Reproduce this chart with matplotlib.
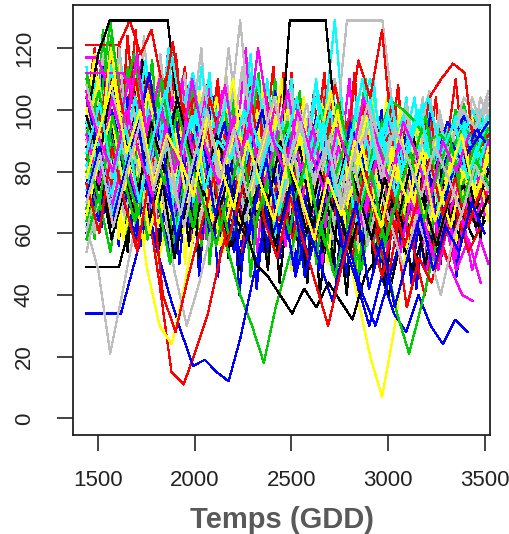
import numpy as np
import matplotlib
matplotlib.use("Agg")
import matplotlib.pyplot as plt

# couleurs de la palette R par defaut
couleurs = ["black", "#FF0000", "#00CD00", "#0000FF", "#00FFFF", "#FF00FF", "#FFFF00", "#BEBEBE"]

# debut / fin de chaque serie (GDD)
fin = [3500, 3400, 3520, 3520, 3520, 3440, 3520, 3520,
       3300, 3450, 3520, 3400, 3520, 3520, 3520, 3400,
       3420, 3520, 3520, 3412, 3520, 3480, 3520, 3450,
       3380, 3440, 3480, 3520, 3520, 3520, 3400, 3520,
       3520, 3480, 3520, 3520, 3500, 3460, 3520, 3400,
       3520, 3480, 3520, 3500, 3480, 3420, 3520, 3520,
       3520, 3500, 3520, 3480, 3520, 3460, 3520, 3520,
       3480, 3520, 3520, 3440, 3520, 3500, 3520, 3520,
       3460, 3520, 3520, 3400, 3520, 3520, 3480, 3520,
       3440, 3520, 3520, 3520, 3520, 3460, 3500, 3520]
debut = [1440] * len(fin)

s00 = [49, 49, 49, 49, 62, 75, 70, 82, 66, 78, 90, 72, 68, 80, 64, 58, 71, 84, 76, 62, 55, 68, 74, 60, 52, 66, 79, 70, 58, 63, 75, 68, 56, 61, 72, 66, 58, 64]
s01 = [121, 121, 121, 121, 129, 118, 126, 108, 115, 98, 104, 88, 95, 80, 92, 76, 85, 70, 82, 95, 78, 88, 72, 84, 96, 80, 70, 86, 92, 76, 82, 68, 74, 88, 78, 70]
s02 = [112, 95, 129, 100, 118, 90, 104, 84, 98, 76, 88, 102, 80, 94, 70, 86, 78, 96, 72, 90, 100, 84, 76, 92, 80, 68, 88, 74, 82, 90, 76, 86, 70, 84, 78]
s03 = [34, 34, 34, 34, 48, 62, 58, 74, 66, 90, 72, 84, 60, 78, 96, 70, 82, 64, 88, 76, 62, 80, 92, 70, 58, 74, 86, 66, 78, 60, 72, 84, 66, 76, 90, 80]
s04 = [98, 110, 88, 104, 92, 116, 84, 100, 78, 94, 106, 82, 90, 74, 98, 86, 70, 92, 80, 96, 84, 72, 90, 78, 104, 82, 96, 76, 86, 70, 84, 92, 78, 88, 94]
s05 = [117, 117, 108, 96, 110, 84, 102, 92, 76, 96, 88, 104, 80, 94, 72, 90, 84, 100, 78, 92, 86, 74, 96, 82, 88, 70, 92, 80, 98, 84, 76, 64, 70, 56, 48, 40, 38]
s06 = [86, 72, 96, 60, 88, 74, 50, 66, 82, 94, 70, 86, 62, 78, 92, 68, 84, 100, 76, 88, 64, 80, 72, 94, 78, 62, 86, 70, 92, 80, 68, 84, 76, 90, 72]
s07 = [62, 48, 21, 40, 60, 78, 92, 70, 96, 84, 108, 76, 94, 129, 88, 104, 80, 98, 72, 90, 84, 110, 86, 76, 100, 82, 94, 74, 88, 106, 80, 92, 70, 86, 78]
s08 = [96, 118, 129, 129, 129, 129, 129, 129, 96, 78, 90, 70, 84, 100, 76, 66, 82, 94, 72, 88, 60, 74, 90, 68, 84, 76, 62, 80, 72, 90, 66, 78]
s09 = [72, 90, 64, 80, 56, 70, 44, 15, 11, 22, 34, 52, 68, 80, 62, 90, 74, 58, 84, 70, 96, 78, 64, 88, 72, 60, 82, 70, 92, 76, 66, 80, 72]
s10 = [80, 66, 92, 74, 58, 84, 70, 52, 76, 62, 88, 68, 54, 40, 30, 18, 36, 50, 64, 78, 60, 46, 62, 80, 66, 52, 70, 84, 72, 58, 76, 88, 92, 86, 94]
s11 = [84, 70, 94, 78, 60, 72, 54, 40, 28, 17, 19, 15, 12, 26, 44, 62, 76, 58, 82, 70, 90, 66, 80, 74, 60, 86, 72, 92, 78, 64, 82, 70, 88]
s12 = [104, 88, 116, 96, 82, 108, 90, 76, 98, 112, 86, 100, 80, 94, 74, 88, 104, 82, 96, 78, 92, 129, 84, 98, 110, 90, 76, 88, 100, 80, 92, 84, 96, 86, 98]
s13 = [112, 112, 112, 112, 104, 94, 110, 86, 100, 78, 92, 70, 88, 96, 74, 84, 66, 90, 78, 62, 86, 72, 94, 80, 68, 84, 76, 60, 82, 70, 90, 78, 66, 74]
s14 = [92, 110, 80, 98, 70, 88, 62, 76, 94, 72, 86, 104, 78, 90, 66, 84, 98, 74, 88, 60, 80, 96, 56, 38, 20, 7, 28, 54, 76, 64, 82, 70, 86, 74, 80]
s15 = [76, 90, 68, 84, 100, 78, 94, 110, 86, 72, 96, 82, 120, 88, 74, 92, 104, 80, 96, 84, 70, 90, 129, 129, 129, 129, 96, 78, 88, 66, 82, 74, 90]
s16 = [70, 84, 62, 78, 92, 68, 82, 58, 74, 90, 66, 80, 96, 72, 88, 64, 76, 129, 129, 129, 129, 88, 70, 82, 60, 76, 90, 68, 80, 72, 64, 70, 66]
s17 = [90, 74, 100, 82, 68, 94, 78, 106, 86, 72, 98, 80, 66, 88, 102, 76, 92, 84, 70, 96, 82, 108, 90, 116, 104, 126, 84, 94, 78, 104, 110, 115, 112, 80, 70]
s18 = [64, 80, 96, 72, 88, 58, 76, 92, 70, 84, 62, 78, 100, 74, 86, 68, 82, 94, 76, 90, 70, 86, 98, 80, 92, 103, 100, 96, 90, 92, 88, 94, 90, 96]
s19 = [78, 64, 86, 70, 58, 80, 66, 52, 72, 88, 60, 76, 54, 68, 82, 58, 70, 46, 62, 50, 38, 56, 44, 30, 46, 34, 28, 40, 30, 24, 32, 28]
s20 = [96, 80, 108, 92, 76, 100, 84, 118, 94, 78, 104, 88, 72, 96, 110, 86, 98, 74, 92, 82, 100, 80, 94, 76, 88, 104, 82, 96, 70, 88, 80, 92, 86, 74]
s21 = [100, 86, 74, 92, 80, 66, 88, 104, 78, 94, 70, 86, 98, 76, 90, 64, 82, 96, 72, 86, 80, 68, 92, 76, 84, 62, 78, 70, 56, 66, 48, 58, 44]
s22 = [70, 96, 82, 58, 74, 48, 30, 24, 42, 64, 80, 56, 72, 90, 68, 84, 60, 78, 94, 70, 86, 62, 80, 98, 74, 88, 66, 82, 60, 76, 90, 70, 84, 64]
s23 = [54, 72, 88, 66, 80, 60, 74, 48, 30, 44, 62, 78, 94, 70, 86, 64, 80, 100, 76, 92, 68, 84, 72, 96, 80, 66, 88, 74, 82, 70, 86, 78]
s24 = [88, 74, 96, 80, 66, 84, 70, 92, 76, 62, 82, 68, 56, 64, 50, 46, 40, 34, 42, 36, 44, 38, 32, 46, 52, 40, 58, 48, 62, 54, 66, 58]
s25 = [108, 92, 118, 100, 86, 110, 94, 80, 102, 88, 74, 96, 84, 70, 90, 78, 64, 86, 72, 58, 80, 66, 52, 74, 60, 46, 68, 56, 40, 62, 50, 70, 64]
s26 = [58, 72, 54, 80, 64, 86, 70, 50, 76, 62, 88, 74, 58, 82, 68, 94, 76, 60, 84, 70, 56, 78, 64, 48, 70, 52, 34, 21, 36, 52, 68, 80, 72, 86]
s27 = [90, 76, 100, 84, 70, 92, 78, 64, 86, 96, 72, 88, 74, 60, 82, 68, 90, 76, 62, 84, 70, 54, 40, 30, 44, 58, 72, 86, 74, 90, 82, 94, 88]
s28 = [82, 96, 72, 88, 104, 80, 94, 70, 86, 100, 76, 92, 84, 68, 90, 78, 96, 72, 88, 106, 82, 94, 76, 90, 70, 84, 98, 78, 92, 66, 80, 94, 84, 90]
s29 = [78, 94, 68, 86, 72, 98, 82, 66, 90, 76, 60, 84, 70, 92, 78, 102, 84, 68, 88, 74, 96, 80, 64, 86, 72, 54, 76, 62, 48, 68, 80, 72, 90]
s30 = [100, 84, 120, 92, 76, 106, 88, 72, 96, 82, 66, 90, 110, 78, 94, 70, 86, 100, 74, 90, 106, 82, 96, 78, 68, 88, 74, 94, 80, 70, 86, 76]
s31 = [90, 76, 108, 84, 96, 70, 88, 104, 80, 94, 66, 84, 98, 76, 90, 72, 86, 102, 80, 92, 74, 88, 96, 78, 84, 70, 92, 80, 88, 100, 94, 104]
s32 = [66, 80, 58, 74, 90, 64, 78, 52, 70, 84, 60, 74, 90, 66, 80, 56, 72, 88, 62, 76, 68, 54, 72, 86, 66, 78, 92, 70, 84, 64, 76, 62, 72]
s33 = [84, 100, 76, 92, 110, 86, 98, 122, 94, 80, 104, 88, 72, 96, 84, 66, 90, 78, 62, 82, 70, 56, 74, 60, 46, 64, 36, 52, 44, 58, 68, 54, 62]
s34 = [92, 106, 84, 98, 76, 90, 110, 82, 96, 72, 88, 100, 78, 92, 68, 84, 96, 74, 90, 80, 102, 86, 70, 92, 80, 66, 84, 98, 72, 88, 76, 90, 82]
s35 = [104, 86, 98, 78, 92, 112, 84, 100, 74, 90, 82, 96, 70, 86, 100, 76, 92, 64, 80, 88, 72, 96, 84, 66, 80, 94, 74, 86, 62, 78, 84, 90, 96]
s36 = [74, 90, 66, 82, 100, 76, 92, 60, 80, 70, 88, 104, 76, 94, 82, 66, 90, 78, 98, 72, 86, 64, 80, 94, 72, 86, 100, 78, 68, 84, 74, 88]
s37 = [92, 76, 104, 88, 118, 84, 100, 80, 96, 70, 88, 108, 82, 96, 74, 90, 106, 80, 94, 70, 88, 76, 62, 84, 72, 90, 66, 80, 58, 74, 86, 70]
s38 = [66, 84, 98, 74, 90, 60, 78, 94, 70, 86, 64, 80, 96, 72, 88, 104, 76, 92, 68, 84, 100, 72, 88, 64, 80, 94, 70, 86, 76, 62, 80, 70, 88]
s39 = [108, 92, 78, 96, 84, 70, 90, 76, 62, 82, 96, 72, 88, 64, 80, 94, 70, 86, 60, 76, 92, 68, 82, 56, 74, 62, 48, 66, 54, 40, 58, 70]
s40 = [98, 84, 110, 90, 74, 96, 80, 104, 86, 72, 92, 78, 64, 84, 70, 90, 76, 60, 80, 68, 86, 72, 58, 78, 64, 82, 70, 56, 72, 86, 68, 80]
s41 = [76, 60, 88, 70, 54, 80, 40, 28, 46, 62, 78, 56, 70, 86, 64, 52, 72, 58, 44, 30, 48, 64, 80, 60, 74, 56, 70, 84, 66, 78, 62, 74]
s42 = [86, 70, 98, 80, 66, 92, 76, 100, 84, 70, 56, 74, 88, 62, 78, 94, 70, 84, 60, 76, 90, 66, 80, 56, 72, 86, 64, 78, 92, 70, 84, 76]
s43 = [72, 88, 64, 80, 96, 70, 86, 58, 76, 92, 66, 82, 50, 68, 84, 60, 76, 46, 62, 80, 54, 70, 42, 58, 36, 52, 66, 48, 62, 54, 70, 60]
s44 = [86, 102, 78, 94, 70, 90, 106, 82, 98, 74, 90, 84, 100, 76, 92, 86, 104, 80, 96, 72, 88, 110, 84, 98, 80, 94, 104, 86, 96, 78, 90]
s45 = [104, 90, 80, 100, 86, 72, 94, 82, 110, 88, 76, 96, 84, 120, 92, 80, 100, 86, 74, 94, 82, 104, 90, 76, 96, 86, 70, 90, 80, 92]
s46 = [78, 94, 110, 86, 100, 76, 92, 84, 72, 98, 82, 68, 90, 76, 64, 84, 72, 58, 78, 66, 90, 74, 62, 82, 70, 86, 64, 78, 92, 72, 84]
s47 = [70, 86, 62, 80, 96, 74, 90, 66, 84, 100, 78, 94, 72, 88, 104, 82, 96, 76, 90, 68, 86, 102, 78, 94, 84, 72, 88, 78, 66, 82, 74]

# series journalieres plus denses
t00 = [88, 62, 104, 70, 96, 54, 82, 110, 66, 90, 58, 78, 100, 64, 86, 52, 74, 98, 60, 84, 112, 70, 92, 56, 80, 104, 62, 88, 50, 76, 96, 58, 84, 66, 92, 48, 72, 100, 60, 82, 54, 78, 94, 62, 86, 50, 70, 90, 58, 76]
t01 = [70, 96, 116, 84, 122, 92, 74, 108, 86, 64, 98, 118, 80, 104, 72, 94, 60, 86, 110, 78, 100, 68, 90, 114, 76, 96, 58, 84, 106, 70, 92, 64, 88, 112, 74, 98, 56, 80, 102, 66, 90, 60, 84, 104, 72, 94, 62, 82, 100, 70]
t02 = [104, 80, 126, 92, 70, 114, 86, 100, 64, 90, 118, 76, 96, 58, 84, 108, 72, 94, 54, 82, 102, 66, 88, 110, 70, 92, 50, 78, 98, 62, 86, 104, 68, 90, 56, 80, 100, 64, 86, 74, 96, 58, 82, 92, 68, 88, 76, 98, 84, 92]
t03 = [60, 84, 72, 98, 56, 90, 110, 68, 94, 52, 80, 104, 62, 88, 46, 76, 100, 58, 84, 40, 70, 96, 54, 82, 64, 92, 48, 74, 98, 56, 86, 44, 72, 94, 60, 80, 50, 76, 90, 58, 84, 42, 66, 88, 54, 78, 46, 70, 86, 92]
t04 = [114, 90, 104, 78, 120, 96, 82, 110, 72, 98, 116, 84, 102, 68, 94, 112, 80, 100, 74, 96, 118, 86, 104, 70, 92, 108, 78, 98, 64, 88, 106, 76, 96, 70, 90, 110, 80, 100, 66, 92, 104, 78, 96, 72, 88, 100, 84, 94, 80, 90]
t05 = [96, 74, 112, 84, 100, 66, 92, 118, 78, 104, 62, 88, 110, 72, 96, 58, 84, 106, 70, 94, 120, 76, 98, 64, 86, 108, 68, 92, 56, 80, 102, 66, 88, 110, 74, 96, 60, 84, 100, 68, 90, 58, 78, 96, 64, 84, 52, 72, 88, 60]
t06 = [80, 104, 64, 96, 118, 72, 90, 56, 84, 108, 66, 94, 50, 78, 100, 62, 88, 112, 70, 96, 54, 82, 106, 68, 92, 48, 76, 98, 60, 86, 110, 72, 94, 58, 82, 104, 66, 90, 52, 78, 96, 62, 86, 70, 94, 56, 80, 98, 66, 86]
t07 = [100, 78, 118, 88, 70, 104, 82, 124, 92, 74, 110, 86, 66, 98, 120, 80, 104, 72, 94, 114, 84, 100, 68, 90, 110, 76, 96, 64, 88, 106, 74, 94, 60, 84, 102, 70, 92, 80, 98, 66, 88, 104, 76, 94, 84, 100, 90, 104, 96, 102]
t08 = [66, 92, 78, 106, 60, 86, 100, 72, 94, 56, 82, 104, 68, 90, 52, 76, 98, 62, 84, 48, 72, 94, 58, 80, 44, 68, 90, 54, 78, 40, 64, 86, 50, 74, 92, 58, 80, 46, 70, 88, 54, 76, 62, 84, 50, 72, 90, 60, 78, 66]
t09 = [90, 112, 76, 100, 84, 124, 94, 70, 108, 86, 62, 96, 114, 78, 100, 66, 88, 110, 72, 94, 58, 82, 104, 68, 90, 112, 74, 96, 60, 84, 106, 70, 92, 56, 80, 100, 64, 88, 108, 72, 94, 60, 84, 98, 68, 90, 74, 96, 82, 88]
t10 = [76, 58, 94, 70, 108, 84, 62, 98, 74, 116, 88, 66, 102, 80, 56, 92, 72, 110, 84, 60, 96, 76, 52, 88, 68, 104, 80, 58, 94, 72, 48, 86, 66, 100, 78, 56, 90, 70, 96, 62, 84, 74, 100, 82, 94, 88, 102, 90, 98, 92]
t11 = [84, 110, 92, 70, 102, 80, 118, 90, 66, 98, 76, 108, 86, 62, 94, 72, 104, 82, 58, 90, 70, 100, 78, 54, 86, 66, 96, 74, 50, 82, 62, 92, 70, 46, 78, 58, 88, 66, 42, 74, 56, 84, 64, 48, 72, 56, 80, 62, 70, 74]
t12 = [92, 70, 108, 84, 100, 62, 90, 114, 76, 98, 68, 88, 106, 72, 94, 60, 86, 102, 70, 96, 112, 80, 100, 66, 92, 110, 78, 98, 62, 88, 104, 72, 94, 58, 84, 100, 68, 90, 78, 96, 64, 86, 102, 74, 94, 82, 98, 88, 100, 92]
t13 = [72, 98, 84, 112, 66, 94, 78, 104, 60, 88, 118, 74, 96, 56, 82, 100, 64, 90, 108, 70, 92, 54, 78, 98, 62, 86, 104, 68, 92, 50, 76, 96, 58, 84, 100, 66, 88, 54, 76, 94, 60, 82, 48, 70, 88, 56, 74, 62, 80, 66]
t14 = [112, 88, 100, 72, 118, 92, 80, 106, 68, 96, 114, 82, 102, 62, 90, 76, 108, 84, 58, 94, 70, 100, 80, 54, 88, 66, 96, 74, 50, 84, 62, 92, 72, 46, 80, 58, 88, 68, 52, 84, 64, 92, 74, 60, 86, 70, 96, 78, 88, 82]
t15 = [58, 80, 66, 94, 72, 104, 60, 86, 76, 100, 64, 90, 112, 70, 96, 54, 82, 104, 68, 92, 58, 84, 100, 66, 90, 50, 76, 98, 62, 86, 110, 70, 94, 56, 82, 100, 68, 90, 60, 84, 96, 70, 88, 64, 92, 78, 100, 86, 104, 98]
t16 = [98, 76, 112, 86, 70, 100, 80, 116, 90, 66, 104, 82, 60, 94, 74, 108, 84, 58, 96, 72, 88, 64, 100, 76, 54, 90, 68, 84, 60, 94, 70, 50, 82, 64, 88, 56, 76, 92, 62, 80, 52, 72, 86, 58, 76, 64, 82, 68, 74, 70]
t17 = [82, 106, 70, 96, 60, 88, 114, 74, 100, 64, 90, 110, 78, 98, 58, 86, 106, 70, 94, 54, 82, 102, 66, 90, 112, 74, 96, 60, 84, 104, 68, 92, 50, 78, 100, 62, 88, 108, 70, 94, 56, 82, 100, 66, 90, 110, 84, 96, 88, 92]
t18 = [110, 86, 96, 124, 80, 102, 70, 94, 116, 82, 100, 64, 90, 108, 74, 96, 60, 86, 104, 70, 92, 112, 78, 98, 66, 88, 106, 72, 94, 58, 84, 100, 68, 90, 110, 76, 96, 62, 86, 104, 72, 92, 80, 98, 86, 100, 92, 96, 90, 94]
t19 = [74, 92, 62, 86, 104, 70, 94, 56, 80, 98, 64, 88, 50, 76, 94, 60, 84, 46, 70, 90, 56, 80, 42, 66, 86, 52, 74, 92, 58, 80, 48, 70, 86, 54, 76, 40, 62, 84, 50, 72, 56, 78, 44, 64, 80, 52, 70, 58, 66, 62]
t20 = [86, 110, 94, 74, 104, 82, 118, 96, 78, 108, 88, 70, 100, 84, 114, 92, 76, 104, 86, 68, 98, 80, 110, 90, 72, 102, 84, 66, 96, 78, 106, 88, 70, 100, 82, 94, 76, 98, 86, 104, 80, 96, 88, 74, 92, 84, 100, 90, 96, 94]
t21 = [106, 84, 96, 70, 110, 88, 76, 102, 64, 92, 114, 80, 98, 68, 90, 108, 74, 96, 60, 86, 104, 72, 94, 56, 82, 100, 66, 90, 110, 76, 98, 62, 88, 70, 94, 58, 82, 72, 90, 64, 84, 56, 76, 60, 70, 52, 64, 48, 58, 50]
t22 = [64, 90, 76, 102, 58, 84, 96, 66, 92, 112, 74, 98, 60, 86, 106, 70, 94, 54, 80, 100, 64, 88, 108, 72, 96, 58, 84, 104, 66, 92, 50, 78, 98, 62, 86, 74, 94, 58, 82, 100, 68, 90, 60, 84, 72, 92, 80, 96, 86, 90]
t23 = [94, 72, 106, 82, 120, 88, 70, 100, 80, 114, 92, 74, 104, 84, 66, 96, 78, 110, 88, 70, 100, 82, 64, 94, 76, 106, 86, 68, 98, 80, 62, 92, 74, 104, 84, 90, 72, 96, 80, 102, 86, 94, 78, 100, 88, 96, 104, 100, 98, 106]
t24 = [76, 100, 86, 64, 94, 72, 108, 82, 60, 92, 70, 102, 78, 56, 88, 66, 96, 74, 52, 84, 62, 92, 70, 48, 80, 58, 88, 66, 44, 76, 54, 84, 62, 40, 72, 52, 80, 60, 46, 70, 56, 78, 62, 50, 68, 58, 74, 64, 70, 66]
t25 = [100, 120, 88, 110, 76, 98, 126, 86, 104, 72, 94, 116, 80, 100, 68, 90, 110, 76, 96, 62, 86, 106, 72, 94, 58, 84, 102, 70, 90, 112, 78, 96, 64, 88, 104, 74, 92, 60, 84, 100, 70, 90, 80, 94, 72, 86, 96, 82, 90, 86]
t26 = [68, 88, 104, 74, 96, 60, 82, 100, 70, 92, 56, 80, 98, 64, 86, 50, 76, 94, 60, 84, 46, 70, 90, 56, 78, 98, 62, 84, 50, 74, 92, 58, 80, 44, 68, 88, 54, 76, 92, 62, 82, 70, 88, 76, 92, 84, 96, 88, 92, 90]
t27 = [96, 76, 114, 88, 70, 104, 82, 96, 64, 90, 108, 76, 98, 60, 86, 102, 70, 94, 56, 82, 100, 66, 88, 106, 72, 94, 58, 84, 98, 68, 90, 54, 78, 96, 62, 86, 100, 70, 92, 76, 96, 84, 100, 88, 96, 92, 98, 90, 94, 96]
t28 = [78, 102, 88, 116, 72, 96, 84, 108, 66, 92, 120, 80, 100, 70, 94, 112, 76, 98, 62, 88, 106, 72, 94, 58, 84, 102, 68, 90, 110, 76, 96, 64, 86, 104, 72, 92, 82, 100, 76, 94, 86, 102, 80, 96, 88, 98, 92, 100, 94, 96]
t29 = [90, 68, 100, 80, 112, 88, 72, 104, 84, 64, 96, 76, 110, 86, 70, 98, 80, 60, 92, 74, 104, 82, 66, 94, 76, 56, 86, 70, 98, 78, 62, 90, 72, 100, 80, 66, 88, 74, 58, 82, 68, 90, 74, 60, 80, 66, 76, 62, 72, 66]
t30 = [98, 118, 84, 106, 72, 94, 112, 78, 100, 66, 88, 108, 74, 96, 62, 86, 104, 70, 92, 58, 82, 100, 68, 90, 110, 76, 96, 60, 84, 102, 70, 92, 56, 80, 98, 64, 86, 104, 72, 94, 60, 84, 70, 90, 76, 94, 64, 82, 72, 80]
t31 = [82, 60, 96, 72, 108, 86, 66, 100, 78, 118, 92, 70, 104, 82, 62, 94, 76, 112, 88, 68, 100, 80, 60, 92, 74, 106, 84, 64, 96, 76, 58, 88, 70, 102, 80, 90, 74, 96, 84, 100, 78, 92, 86, 98, 82, 94, 88, 96, 90, 100]

series = [s00, s01, s02, s03, s04, s05, s06, s07, s08, s09, s10, s11,
          s12, s13, s14, s15, s16, s17, s18, s19, s20, s21, s22, s23,
          s24, s25, s26, s27, s28, s29, s30, s31, s32, s33, s34, s35,
          s36, s37, s38, s39, s40, s41, s42, s43, s44, s45, s46, s47,
          t00, t01, t02, t03, t04, t05, t06, t07, t08, t09, t10, t11,
          t12, t13, t14, t15, t16, t17, t18, t19, t20, t21, t22, t23,
          t24, t25, t26, t27, t28, t29, t30, t31]

# les series marquantes (paliers, creux) sont tracees en dernier
ordre = list(range(48, 80)) + list(range(48))

xticks = [1500, 2000, 2500, 3000, 3500]
yticks = [0, 20, 40, 60, 80, 100, 120]

plt.rcParams['font.family'] = ['Liberation Sans', 'DejaVu Sans']

fig = plt.figure(figsize=(5.10, 5.34), dpi=100)
ax = fig.add_axes([73 / 510, 1 - 435 / 534, 417 / 510, 430 / 534])

for i in ordre:
    y = np.array(series[i], dtype=float)
    x = np.linspace(debut[i], fin[i], len(y))
    ax.plot(x, y, color=couleurs[i % 8], lw=0.9, antialiased=False)

ax.set_xlim(1370, 3528)
ax.set_ylim(-5.4, 134)
ax.set_xticks(xticks)
ax.set_yticks(yticks)
ax.set_xticklabels([str(v) for v in xticks])
ax.set_yticklabels([str(v) for v in yticks])
ax.tick_params(axis='both', direction='out', length=11.5, width=1.2, labelsize=16, colors='#222222')
ax.tick_params(axis='x', pad=14)
ax.tick_params(axis='y', pad=16, labelrotation=90)
for lab in ax.get_yticklabels():
    lab.set_verticalalignment('center')
for sp in ax.spines.values():
    sp.set_linewidth(1.3)
    sp.set_color('#222222')

fig.text((73 + 490) / 2 / 510, 6 / 534, "Temps (GDD)", ha='center', va='baseline',
         fontsize=21, fontweight='bold', color='#595959')

fig.savefig("out.png", dpi=100)
